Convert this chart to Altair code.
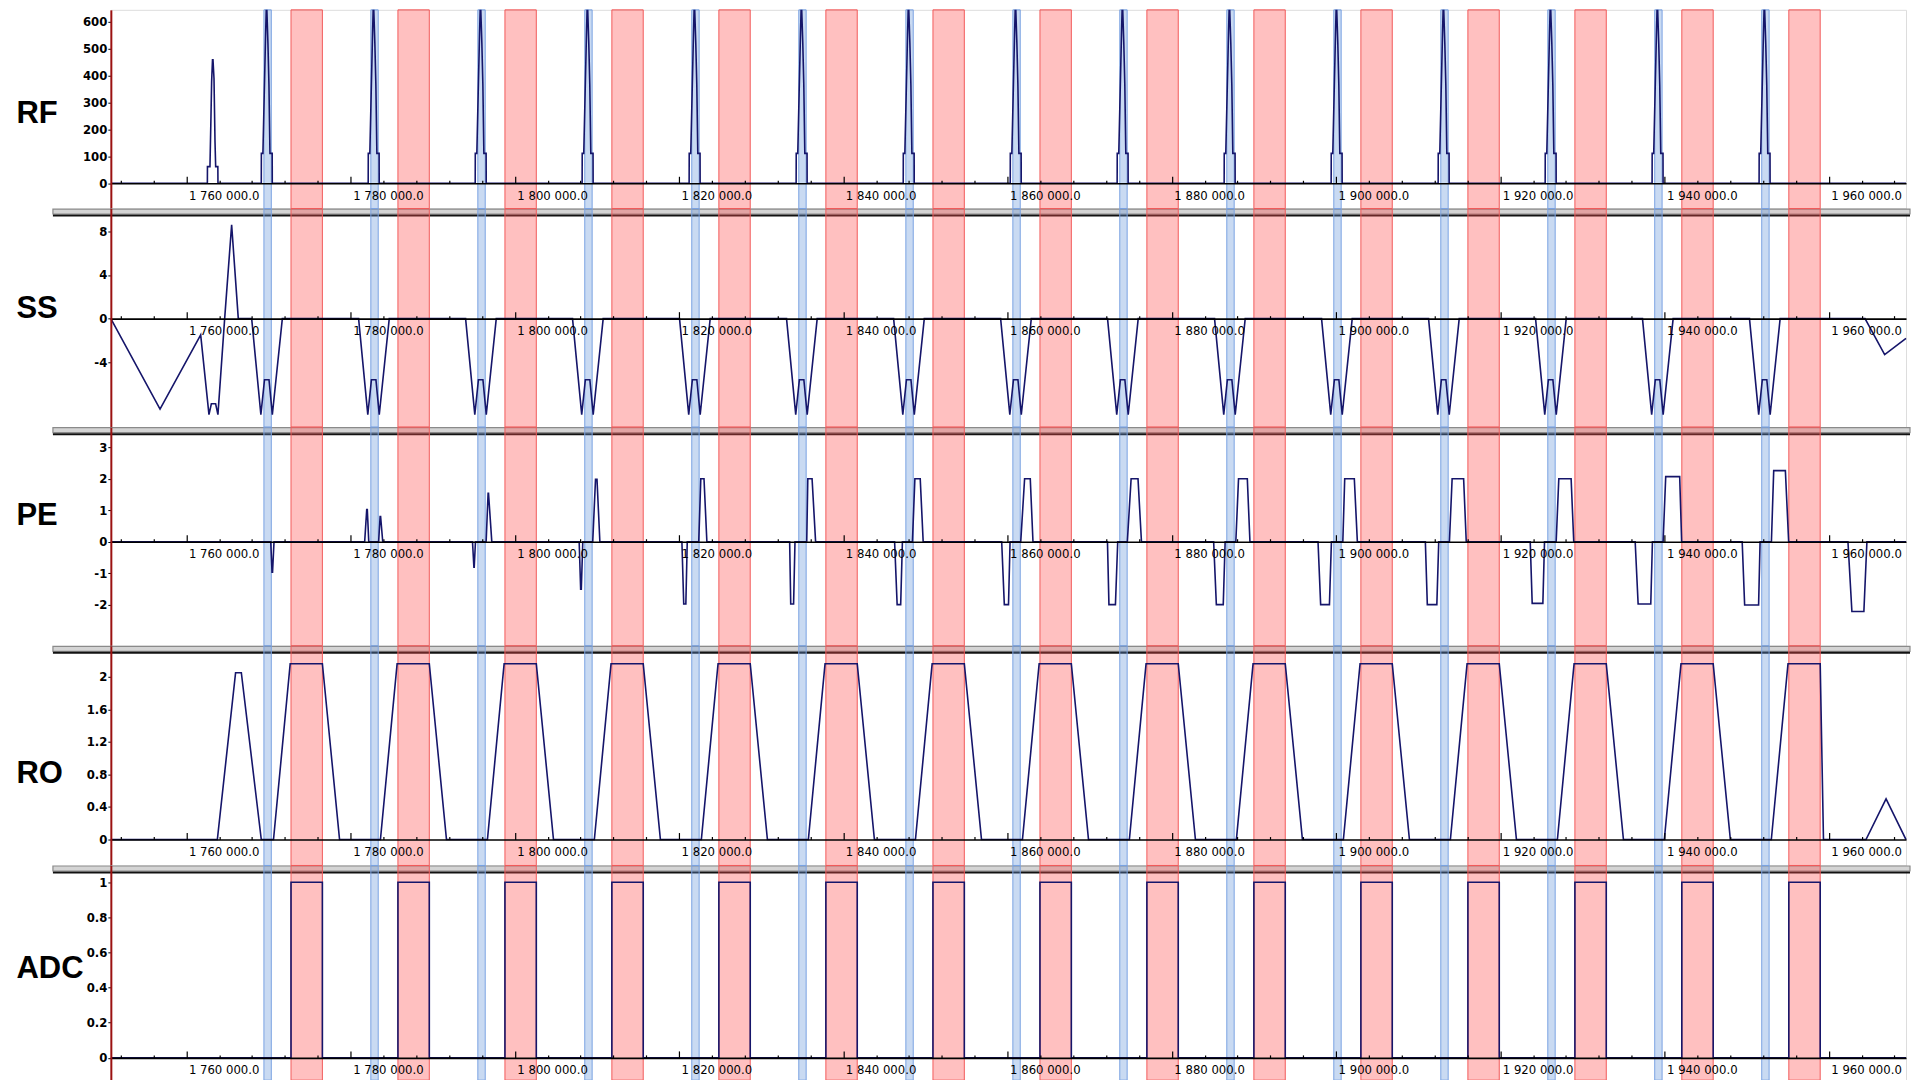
import altair as alt
import pandas as pd

# ---------------- data ----------------
X_MIN, X_MAX = 1750800, 1969400

# RF (blue) windows and ADC (red) windows
BLUE_START = [1769440, 1782460, 1795490, 1808510, 1821540, 1834570, 1847610, 1860640,
              1873660, 1886690, 1899720, 1912750, 1925780, 1938800, 1951830]
BLUE_END = [1770340, 1783360, 1796390, 1809410, 1822440, 1835470, 1848510, 1861540,
            1874560, 1887590, 1900620, 1913650, 1926680, 1939700, 1952730]
RED_START = [1772740, 1785760, 1798790, 1811810, 1824840, 1837870, 1850910, 1863940,
             1876960, 1889990, 1903020, 1916050, 1929080, 1942100, 1955130]
RED_END = [1776560, 1789580, 1802610, 1815630, 1828660, 1841690, 1854730, 1867760,
           1880780, 1893810, 1906840, 1919870, 1932900, 1945920, 1958950]

# RF pulses
RF_EXC_PEAK = 1763200
RF_EXC_DT = [-645, -635, -330, -207, -126, -20, 40, 162, 284, 365, 630, 645]
RF_EXC_VAL = [0, 62, 62, 247, 378, 459, 459, 390, 155, 62, 62, 0]
RF_REF_PEAKS = [1769730, 1782750, 1795780, 1808800, 1821830, 1834860, 1847900, 1860930,
                1873950, 1886980, 1900010, 1913040, 1926070, 1939090, 1952120]
RF_REF_DT = [-610, -600, -413, -250, -85, 0, 60, 200, 324, 446, 720, 730]
RF_REF_VAL = [0, 111, 111, 330, 551, 653, 653, 520, 365, 111, 111, 0]

# Slice select
BLUE_CENTER = [1769890, 1782910, 1795940, 1808960, 1821990, 1835020, 1848060, 1861090,
               1874110, 1887140, 1900170, 1913200, 1926230, 1939250, 1952280]
SS_INIT_T = [1750800, 1756790, 1761740, 1762750, 1763040, 1763560, 1763840, 1764660, 1765510, 1766320]
SS_INIT_V = [0, -8.3, -1.5, -8.8, -7.8, -7.8, -8.8, 0, 8.6, 0]
SS_W_DT = [-1940, -820, -378, 170, 576, 1794]
SS_W_V = [0, -8.8, -5.6, -5.6, -8.8, 0]
SS_END_T = [1964410, 1966800, 1969400]
SS_END_V = [0, -3.3, -1.8]

# Phase encode lobes (start, top start, top end, end, amplitude)
PE_T0 = [1770270, 1781710, 1783410, 1794840, 1796500, 1807830, 1809480, 1820340, 1822390,
         1833460, 1835540, 1846240, 1848410, 1859280, 1861600, 1872160, 1874580, 1885090,
         1887790, 1897800, 1900820, 1910870, 1913800, 1923640, 1926800, 1936420, 1939820,
         1949450, 1953010, 1962330]
PE_T1 = [1770430, 1781960, 1783590, 1795010, 1796740, 1808010, 1809820, 1820560, 1822640,
         1833590, 1835670, 1846550, 1848710, 1859600, 1862070, 1872340, 1875040, 1885420,
         1888120, 1898120, 1901050, 1911110, 1914130, 1923880, 1927120, 1936780, 1940140,
         1949750, 1953290, 1962810]
PE_T2 = [1770490, 1782030, 1783650, 1795050, 1796790, 1808090, 1810000, 1820820, 1823030,
         1833940, 1836190, 1846980, 1849360, 1860110, 1862760, 1873130, 1875880, 1886260,
         1889190, 1899190, 1902220, 1912270, 1915530, 1925180, 1928620, 1938320, 1941840,
         1951450, 1954710, 1964270]
PE_T3 = [1770670, 1782210, 1783910, 1795200, 1797190, 1808270, 1810350, 1820990, 1823380,
         1834110, 1836620, 1847190, 1849720, 1860300, 1863090, 1873410, 1876300, 1886490,
         1889510, 1899430, 1902590, 1912500, 1915850, 1925380, 1928940, 1938520, 1942080,
         1951630, 1955110, 1964640]
PE_AMP = [-0.97, 1.02, 0.80, -0.81, 1.54, -1.51, 1.98, -1.98, 2.0, -1.98, 2.0, -2.0, 2.0,
          -2.0, 2.0, -2.0, 2.0, -2.0, 2.0, -2.0, 2.0, -2.0, 2.0, -1.96, 2.0, -1.98, 2.07,
          -2.01, 2.26, -2.22]

# Readout
RO_INIT_T = [1750800, 1763770, 1765990, 1766690, 1769120]
RO_INIT_V = [0, 0, 2.05, 2.05, 0]
RO_TOP = 2.16
RO_RISE = 2130
RO_FALL = 2090
RO_LAST_FALL = 400
RO_END_T = [1964530, 1966970, 1969400]
RO_END_V = [0, 0.5, 0]

# axis ticks (every 4 000, labelled every 20 000)
MINOR = list(range(1752000, 1968001, 4000))

# ---------------- build tables ----------------
def to_df(ts, vs):
    return pd.DataFrame({"t": ts, "v": vs, "i": list(range(len(ts)))})

rf_t, rf_v = [X_MIN], [0]
for dt, v in zip(RF_EXC_DT, RF_EXC_VAL):
    rf_t.append(RF_EXC_PEAK + dt); rf_v.append(v)
for p in RF_REF_PEAKS:
    for dt, v in zip(RF_REF_DT, RF_REF_VAL):
        rf_t.append(p + dt); rf_v.append(v)
rf_t.append(X_MAX); rf_v.append(0)

ss_t, ss_v = list(SS_INIT_T), list(SS_INIT_V)
for c in BLUE_CENTER:
    for dt, v in zip(SS_W_DT, SS_W_V):
        ss_t.append(c + dt); ss_v.append(v)
ss_t += SS_END_T; ss_v += SS_END_V

pe_t, pe_v = [X_MIN], [0]
for a, b, c, d, amp in zip(PE_T0, PE_T1, PE_T2, PE_T3, PE_AMP):
    pe_t += [a, b, c, d]; pe_v += [0, amp, amp, 0]
pe_t.append(X_MAX); pe_v.append(0)

ro_t, ro_v = list(RO_INIT_T), list(RO_INIT_V)
for k, (rs, re) in enumerate(zip(RED_START, RED_END)):
    fall = RO_LAST_FALL if k == len(RED_START) - 1 else RO_FALL
    ro_t += [rs - RO_RISE, rs - 100, re, re + fall]
    ro_v += [0, RO_TOP, RO_TOP, 0]
ro_t += RO_END_T; ro_v += RO_END_V

adc_t, adc_v = [X_MIN], [0]
for rs, re in zip(RED_START, RED_END):
    adc_t += [rs, rs, re, re]; adc_v += [0, 1, 1, 0]
adc_t.append(X_MAX); adc_v.append(0)

red_df = pd.DataFrame({"s": RED_START, "e": RED_END})
blue_df = pd.DataFrame({"s": BLUE_START, "e": BLUE_END})
one_df = pd.DataFrame({"a": [0]})

# ---------------- chart ----------------
W = 1798
LINE_COLOR = "#15156a"
NARROW = "Liberation Sans Narrow, Arial Narrow, DejaVu Sans Condensed, sans-serif"
x_scale = alt.Scale(domain=[X_MIN, X_MAX], nice=False, zero=False)
LABEL_EXPR = ("datum.value % 20000 == 0 ? "
              "replace(replace(format(datum.value, ',.1f'), ',', ' '), ',', ' ') : ''")
TICK_SIZE = {"condition": {"test": "datum.value % 20000 == 0", "value": 7}, "value": 3}


def x_axis(y0p):
    return alt.Axis(orient="top", offset=-y0p, values=MINOR, ticks=True, tickSize=TICK_SIZE,
                    tickColor="black", tickWidth=1.2,
                    domainColor="black", domainWidth=1.6, labelExpr=LABEL_EXPR,
                    labelAlign="left", labelBaseline="top", labelPadding=-13, labelOffset=2,
                    labelFontSize=13, labelFont=NARROW, labelColor="black",
                    labelOverlap=False, labelFlush=False, title=None, grid=False, zindex=1)


def make_panel(name, df, ydom, yvals, H, y0p, title_y, sep, clip=False):
    layers = []
    if sep:
        layers.append(alt.Chart(one_df).mark_rect(fill="#d4d4d4", stroke="#8a8a8a", strokeWidth=1.2).encode(
            x=alt.value(-58), x2=alt.value(W + 4), y=alt.value(0.5), y2=alt.value(5.5)))
        layers.append(alt.Chart(one_df).mark_rule(color="#111111", strokeWidth=2).encode(
            x=alt.value(-58), x2=alt.value(W + 4), y=alt.value(7)))
    red = alt.Chart(red_df).mark_rect(fill="#ff5050", fillOpacity=0.36, stroke="#f25a5a", strokeWidth=1).encode(
        x=alt.X("s:Q", scale=x_scale, axis=x_axis(y0p)), x2="e:Q", y=alt.value(0), y2=alt.value(H))
    blue = alt.Chart(blue_df).mark_rect(fill="#6a98dc", fillOpacity=0.36, stroke="#7aa3e3", strokeWidth=1).encode(
        x=alt.X("s:Q", scale=x_scale, axis=x_axis(y0p)), x2="e:Q", y=alt.value(0), y2=alt.value(H))
    line = alt.Chart(df).mark_line(color=LINE_COLOR, strokeWidth=1.6, clip=clip).encode(
        x=alt.X("t:Q", scale=x_scale, axis=x_axis(y0p)),
        y=alt.Y("v:Q", scale=alt.Scale(domain=ydom, nice=False, zero=False),
                axis=alt.Axis(values=yvals, labelExpr="toString(datum.value)", title=name, titleAngle=0,
                              titleAlign="left", titleBaseline="middle", titleX=-95, titleY=title_y,
                              titleFont="Liberation Sans", titleFontSize=31, titleFontWeight="bold",
                              titleColor="black", domainColor="#9b1111", domainWidth=2,
                              tickColor="black", tickSize=3, labelFontSize=13, labelFont=NARROW,
                              labelFontWeight="bold", labelColor="black", labelPadding=1,
                              grid=False, zindex=1)),
        order="i:Q")
    return alt.layer(*layers, red, blue, line).properties(width=W, height=H)


rf = make_panel("RF", to_df(rf_t, rf_v), [-94, 645], [0, 100, 200, 300, 400, 500, 600],
                199, 173.7, 103.7, False, clip=True)
ss = make_panel("SS", to_df(ss_t, ss_v), [-9.95, 10.09], [-4, 0, 4, 8], 219, 110.3, 99.7, True)
pe = make_panel("PE", to_df(pe_t, pe_v), [-3.31, 3.64], [-2, -1, 0, 1, 2, 3], 219, 114.7, 88.3, True)
ro = make_panel("RO", to_df(ro_t, ro_v), [-0.319, 2.380], [0, 0.4, 0.8, 1.2, 1.6, 2], 220, 194, 128.3, True)
adc = make_panel("ADC", to_df(adc_t, adc_v), [-0.127, 1.095], [0, 0.2, 0.4, 0.6, 0.8, 1], 215, 192.7, 103.3, True)

chart = alt.vconcat(rf, ss, pe, ro, adc, spacing=0, bounds="flush").properties(
    padding={"left": 7, "top": 0, "right": 0, "bottom": 0}
).configure_view(strokeWidth=0).configure(background="white")

chart.save("out.html", embed_options={"renderer": "svg", "actions": False})
